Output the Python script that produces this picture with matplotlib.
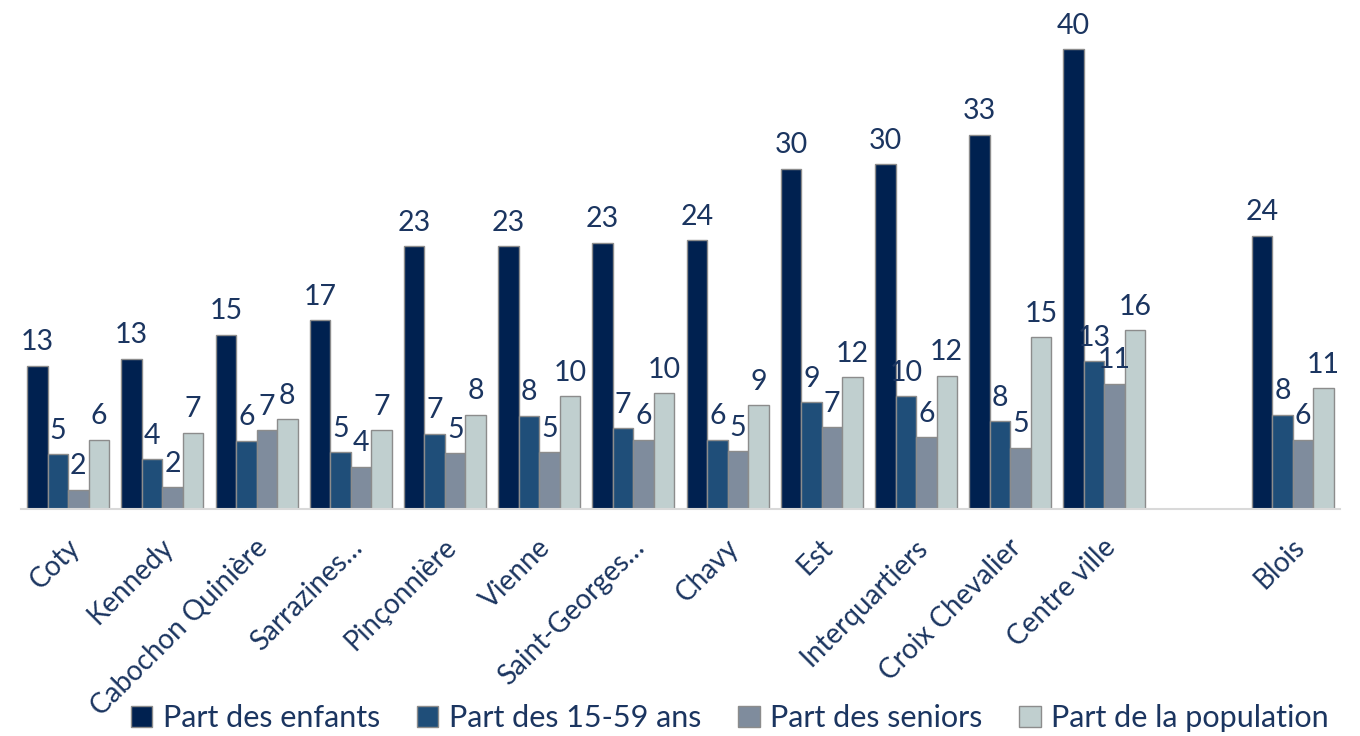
import matplotlib
matplotlib.use("Agg")
import matplotlib.pyplot as plt
import numpy as np

categories = ["Coty", "Kennedy", "Cabochon Quinière", "Sarrazines…", "Pinçonnière",
              "Vienne", "Saint-Georges…", "Chavy", "Est", "Interquartiers",
              "Croix Chevalier", "Centre ville", "", "Blois"]

enfants    = [12.6, 13.2, 15.3, 16.6, 23.1, 23.1, 23.4, 23.6, 29.9, 30.3, 32.9, 40.4, None, 24.0]
adultes    = [4.8, 4.4, 6.0, 5.0, 6.6, 8.2, 7.1, 6.1, 9.4, 9.9, 7.7, 13.0, None, 8.3]
seniors    = [1.7, 1.9, 6.9, 3.7, 4.9, 5.0, 6.1, 5.1, 7.2, 6.3, 5.4, 11.0, None, 6.1]
population = [6.1, 6.7, 7.9, 6.9, 8.3, 9.9, 10.2, 9.1, 11.6, 11.7, 15.1, 15.7, None, 10.6]

series_names = ["Part des enfants", "Part des 15-59 ans", "Part des seniors", "Part de la population"]
series_values = [enfants, adultes, seniors, population]
colors = ["#002150", "#1F4E79", "#7F8C9D", "#C0CFCF"]
text_color = "#1B3560"

plt.rcParams['font.family'] = ['Lato', 'DejaVu Sans']

W, H = 1360, 736
fig = plt.figure(figsize=(W / 100, H / 100), dpi=100)
base_px = 509
top_px = 5
left_px, right_px = 21, 1340
ax = fig.add_axes([left_px / W, (H - base_px) / H, (right_px - left_px) / W, (base_px - top_px) / H])

x = np.arange(len(categories))
group_w = 0.87
bw = group_w / 4
handles = []
for i, (name, vals, c) in enumerate(zip(series_names, series_values, colors)):
    xs = [xi for xi, v in zip(x, vals) if v is not None]
    vs = [v for v in vals if v is not None]
    pos = np.array(xs) - group_w / 2 + bw * (i + 0.5)
    bars = ax.bar(pos, vs, width=bw, color=c, edgecolor="#8C8C8C", linewidth=1.0, label=name)
    handles.append(bars)
    for p, v in zip(pos, vs):
        ax.annotate(f"{int(v + 0.5)}", (p, v), xytext=(0, 7.5), textcoords="offset points",
                    ha="center", va="bottom", fontsize=20.5, color=text_color)

ax.set_xlim(-0.5, len(categories) - 0.5)
ax.set_ylim(0, (base_px - top_px) / 11.38)
ax.set_yticks([])
for s in ["left", "right", "top"]:
    ax.spines[s].set_visible(False)
ax.spines["bottom"].set_color("#D9D9D9")
ax.spines["bottom"].set_linewidth(1.5)
ax.set_xticks(x - 0.02)
ax.set_xticklabels(categories, rotation=45, ha="right", va="top", rotation_mode="anchor",
                   fontsize=20, color=text_color)
ax.tick_params(axis="x", length=0, pad=18)

leg = fig.legend(handles, series_names, loc="center", bbox_to_anchor=(730 / W, 1 - 718 / H),
                 ncol=4, frameon=False, fontsize=22, handlelength=0.7, handleheight=0.7,
                 handletextpad=0.35, columnspacing=1.2, labelcolor=text_color)

fig.savefig("out.png", dpi=100)
